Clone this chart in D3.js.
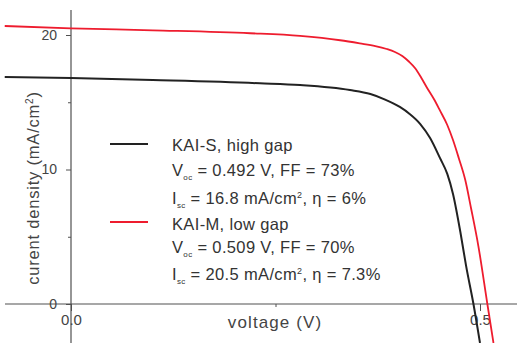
<!DOCTYPE html>
<html>
<head>
<meta charset="utf-8">
<script src="https://cdn.jsdelivr.net/npm/d3@7"></script>
<style>
  html, body { margin: 0; padding: 0; background: #fff; }
  svg { display: block; font-family: "Liberation Sans", Arial, sans-serif; }
</style>
</head>
<body>
<svg id="chart" width="517" height="343"></svg>
<script>
// J–V curves of the two cells (voltage in V, current density in mA/cm²)
const kaiSVoltage = [-0.081, 0.0, 0.10, 0.231, 0.280, 0.341, 0.366, 0.384, 0.402, 0.414, 0.427, 0.439, 0.451, 0.460, 0.467, 0.476, 0.483, 0.492, 0.500];
const kaiSCurrent = [16.88, 16.8, 16.65, 16.41, 16.28, 15.91, 15.61, 15.20, 14.65, 14.13, 13.38, 12.34, 10.86, 9.67, 8.18, 5.35, 2.83, 0.0, -2.9];

const kaiMVoltage = [-0.081, 0.0, 0.10, 0.219, 0.280, 0.329, 0.353, 0.372, 0.386, 0.396, 0.405, 0.413, 0.421, 0.428, 0.435, 0.444, 0.451, 0.460, 0.467, 0.474, 0.482, 0.489, 0.498, 0.509, 0.5165];
const kaiMCurrent = [20.67, 20.5, 20.35, 20.13, 19.93, 19.61, 19.38, 19.18, 18.96, 18.74, 18.44, 18.03, 17.51, 16.84, 16.10, 15.20, 14.39, 13.31, 12.19, 10.86, 9.22, 7.14, 4.31, 0.0, -2.9];

const xMajorTicks = [0, 0.5];
const xMajorLabels = ["0.0", "0.5"];
const xMinorTicks = [0.25];
const yMajorTicks = [0, 10, 20];
const yMinorTicks = [5, 15];

const legendEntries = [
  { name: "KAI-S, high gap", voc: "0.492", ff: "73%", isc: "16.8", eta: "6%", color: "#222222" },
  { name: "KAI-M, low gap", voc: "0.509", ff: "70%", isc: "20.5", eta: "7.3%", color: "#ee1c2e" }
];

const svg = d3.select("#chart");
const W = 517, H = 343;

const x = d3.scaleLinear().domain([0, 0.5]).range([71, 480]);
const y = d3.scaleLinear().domain([0, 20]).range([304, 35]);

const axisColor = "#505050";
const textColor = "#444";

const line = d3.line()
  .x(d => x(d[0]))
  .y(d => y(d[1]))
  .curve(d3.curveMonotoneX);

const series = [
  { v: kaiMVoltage, j: kaiMCurrent, color: legendEntries[1].color, w: 1.8 },
  { v: kaiSVoltage, j: kaiSCurrent, color: legendEntries[0].color, w: 2.0 }
];

// axis lines spanning the whole frame
svg.append("line")
  .attr("x1", x(x.invert(5))).attr("x2", x(x.invert(W)))
  .attr("y1", y(0)).attr("y2", y(0))
  .attr("stroke", axisColor).attr("stroke-width", 1.2);
svg.append("line")
  .attr("x1", x(0)).attr("x2", x(0))
  .attr("y1", y(y.invert(10))).attr("y2", y(y.invert(H)))
  .attr("stroke", axisColor).attr("stroke-width", 1.2);

// x ticks
const xAxis = svg.append("g").attr("transform", `translate(0,${y(0)})`);
xAxis.call(d3.axisBottom(x).tickValues(xMajorTicks).tickSize(7)
  .tickFormat((d, i) => xMajorLabels[i]).tickPadding(3));
xAxis.append("g").call(d3.axisBottom(x).tickValues(xMinorTicks).tickSize(3).tickFormat(""));
xAxis.selectAll(".domain").remove();
xAxis.selectAll("line").attr("stroke", axisColor);
xAxis.selectAll("text").attr("fill", textColor).style("font-size", "15px")
  .style("font-family", "'Liberation Sans', Arial, sans-serif");

// y ticks
const yAxis = svg.append("g").attr("transform", `translate(${x(0)},0)`);
yAxis.call(d3.axisLeft(y).tickValues(yMajorTicks).tickSize(5).tickFormat(d3.format("d")).tickPadding(9));
yAxis.append("g").call(d3.axisLeft(y).tickValues(yMinorTicks).tickSize(3).tickFormat(""));
yAxis.selectAll(".domain").remove();
yAxis.selectAll("line").attr("stroke", axisColor);
yAxis.selectAll("text").attr("fill", textColor).style("font-size", "14px")
  .style("font-family", "'Liberation Sans', Arial, sans-serif");

// curves drawn over the axes
series.forEach(s => {
  svg.append("path")
    .datum(s.v.map((v, i) => [v, s.j[i]]))
    .attr("fill", "none")
    .attr("stroke", s.color)
    .attr("stroke-width", s.w)
    .attr("d", line);
});

// axis titles
svg.append("text")
  .attr("x", 275).attr("y", 328)
  .attr("text-anchor", "middle")
  .attr("fill", textColor)
  .style("font-size", "17px")
  .style("letter-spacing", "1.1px")
  .text("voltage (V)");

const yTitle = svg.append("text")
  .attr("transform", "translate(38.5,188) rotate(-90)")
  .attr("text-anchor", "middle")
  .attr("fill", textColor)
  .style("font-size", "16.5px")
  .style("letter-spacing", "0.8px");
yTitle.append("tspan").text("curent density (mA/cm");
yTitle.append("tspan").attr("dy", -6).style("font-size", "10px").text("2");
yTitle.append("tspan").attr("dy", 6).text(")");

// legend
const legend = svg.append("g");
const rowY = [[144, 150.5, 176, 203.5], [222, 230, 252.5, 280]];
legendEntries.forEach((e, k) => {
  const [ly, b1, b2, b3] = rowY[k];
  legend.append("line")
    .attr("x1", 110).attr("x2", 148).attr("y1", ly).attr("y2", ly)
    .attr("stroke", e.color).attr("stroke-width", 2.2);
  const t = legend.append("g").attr("fill", "#333")
    .style("font-size", "16.5px").style("letter-spacing", "0.35px");
  t.append("text").attr("x", 172).attr("y", b1).text(e.name);

  const l2 = t.append("text").attr("x", 172).attr("y", b2);
  l2.append("tspan").text("V");
  l2.append("tspan").attr("dy", 4).style("font-size", "8px").text("oc");
  l2.append("tspan").attr("dy", -4).text(` = ${e.voc} V, FF = ${e.ff}`);

  const l3 = t.append("text").attr("x", 172).attr("y", b3);
  l3.append("tspan").text("I");
  l3.append("tspan").attr("dy", 4).style("font-size", "8px").text("sc");
  l3.append("tspan").attr("dy", -4).text(` = ${e.isc} mA/cm`);
  l3.append("tspan").attr("dy", -6).style("font-size", "9px").text("2");
  l3.append("tspan").attr("dy", 6).text(`, η = ${e.eta}`);
});
</script>
</body>
</html>
